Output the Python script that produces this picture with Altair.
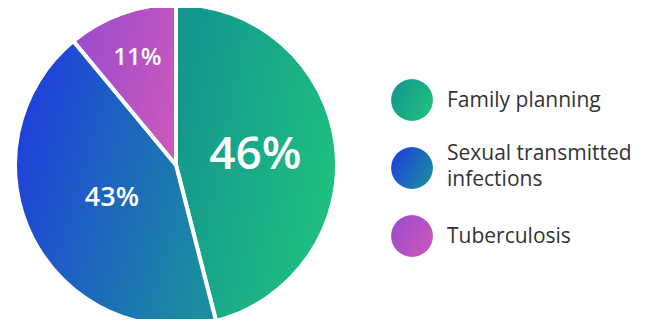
import altair as alt
import pandas as pd

categories = ["Family planning", "Sexual transmitted infections", "Tuberculosis"]
legend_text = ["Family planning", "Sexual transmitted\ninfections", "Tuberculosis"]
shares = [46, 43, 11]
labels = ["46%", "43%", "11%"]

gradients = [
    ("#14968f", "#1fc27e"),
    ("#1f3fdc", "#1a8e9e"),
    ("#9c4bcc", "#ca58bd"),
]

ends = []
acc = 0
for s in shares:
    acc += s
    ends.append(acc)
starts = [e - s for e, s in zip(ends, shares)]

df = pd.DataFrame({
    "category": categories,
    "legend": legend_text,
    "share": shares,
    "label": labels,
    "start": starts,
    "end": ends,
})

CX, CY = 168, 157  # pie centre within the view
theta_scale = alt.Scale(domain=[0, 100])
y_scale = alt.Scale(domain=categories, range=[92, 228], padding=0)
base = alt.Chart(df)


def grad(c0, c1, y1=0.3, y2=0.7):
    return alt.LinearGradient(
        gradient="linear", x1=0, y1=y1, x2=1, y2=y2,
        stops=[alt.GradientStop(color=c0, offset=0), alt.GradientStop(color=c1, offset=1)],
    )


layers = []
for cat, (c0, c1) in zip(categories, gradients):
    layers.append(
        base.transform_filter(alt.datum.category == cat)
        .mark_arc(fill=grad(c0, c1), stroke="white", strokeWidth=4, radius=161)
        .encode(
            theta=alt.Theta("start:Q", scale=theta_scale),
            theta2="end:Q",
            x=alt.value(CX),
            y=alt.value(CY),
        )
    )

text_specs = [(categories[0], 80, 46), (categories[1], 72, 27), (categories[2], 114, 24)]
for cat, r, fs in text_specs:
    layers.append(
        base.transform_filter(alt.datum.category == cat)
        .transform_calculate(mid="(datum.start + datum.end) / 2")
        .mark_text(color="white", font="Open Sans", fontWeight=600, fontSize=fs,
                   radius=r, baseline="middle", align="center")
        .encode(
            theta=alt.Theta("mid:Q", scale=theta_scale),
            text="label:N",
            x=alt.value(CX),
            y=alt.value(CY),
        )
    )

# legend: gradient circles + labels
for cat, (c0, c1) in zip(categories, gradients):
    layers.append(
        base.transform_filter(alt.datum.category == cat)
        .mark_point(shape="circle", filled=True, size=1750, opacity=1,
                    fill=grad(c0, c1, 0.2, 0.8), strokeWidth=0)
        .encode(
            x=alt.value(404),
            y=alt.Y("category:N", scale=y_scale, axis=None),
        )
    )

for is_multi, dy in [(False, 1), (True, -14)]:
    cond = "indexof(datum.legend, '\\n') >= 0" if is_multi else "indexof(datum.legend, '\\n') < 0"
    layers.append(
        base.transform_filter(cond)
        .mark_text(align="left", baseline="middle", font="Open Sans", fontSize=21,
                   fontWeight=500, color="#333333", lineBreak="\n", lineHeight=26, dy=dy)
        .encode(
            x=alt.value(439),
            y=alt.Y("category:N", scale=y_scale, axis=None),
            text="legend:N",
        )
    )

chart = alt.layer(*layers).properties(
    width=636, height=311, padding=0,
    autosize=alt.AutoSizeParams(type="none"),
).configure_view(stroke=None)

chart.save("out.html", embed_options={"renderer": "svg", "actions": False})
